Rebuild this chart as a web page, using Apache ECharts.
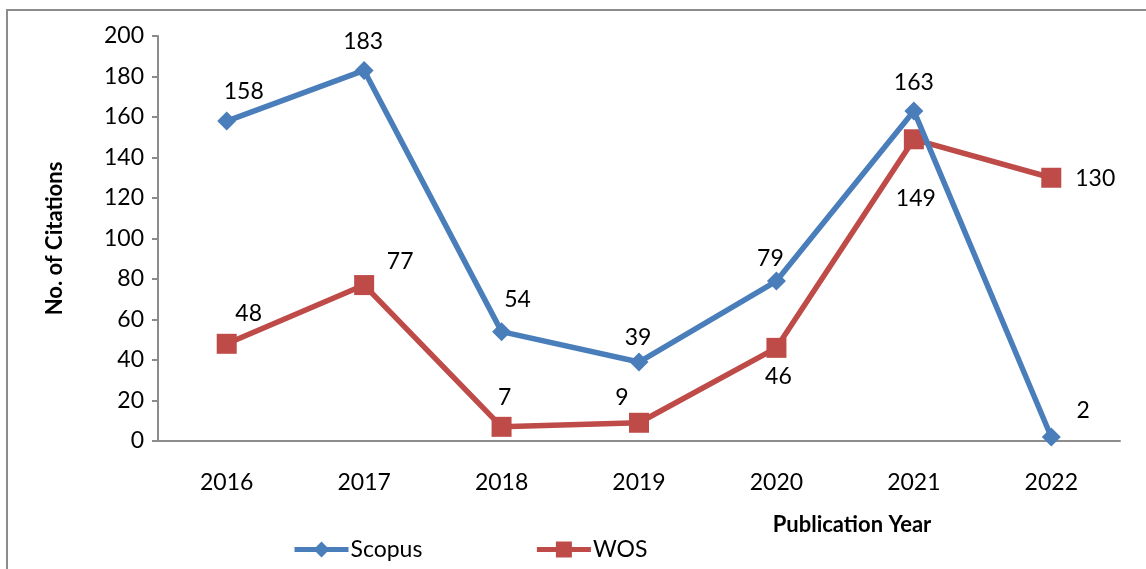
<!DOCTYPE html>
<html>
<head>
<meta charset="utf-8">
<script src="https://cdn.jsdelivr.net/npm/echarts@6/dist/echarts.min.js"></script>
<style>html,body{margin:0;padding:0;background:#fff}#c{width:1146px;height:569px}</style>
</head>
<body>
<div id="c"></div>
<script>
const categories = ['2016','2017','2018','2019','2020','2021','2022'];
const scopus = [158, 183, 54, 39, 79, 163, 2];
const wos = [48, 77, 7, 9, 46, 149, 130];
const yTicks = [0, 20, 40, 60, 80, 100, 120, 140, 160, 180, 200];
// label offsets (dx, dy) from each point, in px
const scopusLabelOffsets = [[17,-29],[-1,-29],[16,-32],[-1,-24],[-6,-22],[0,-28],[32,-26]];
const wosLabelOffsets = [[22,-30],[36,-23],[3,-29],[-17,-25],[2,29],[2,59],[44,1]];

const FONT = 'Lato';
const FS = 23;
const chart = echarts.init(document.getElementById('c'));
function withLabels(vals, offs) {
  return vals.map((v, i) => ({ value: v, label: { offset: offs[i] } }));
}
chart.setOption({
  animation: false,
  textStyle: { fontFamily: FONT },
  graphic: [{
    type: 'rect', shape: { x: 7, y: 10, width: 1150, height: 580 },
    style: { fill: 'none', stroke: '#8c8c8c', lineWidth: 2 }, silent: true
  }],
  grid: { left: 158, right: 26, top: 36, bottom: 128 },
  legend: {
    left: 287, top: 533, itemWidth: 54, itemHeight: 20, itemGap: 112,
    lineStyle: { width: 5 },
    textStyle: { fontFamily: FONT, fontSize: FS, color: '#000', padding: [0,0,0,-3] },
    data: ['Scopus', 'WOS']
  },
  xAxis: {
    type: 'category', data: categories, boundaryGap: true,
    name: 'Publication Year', nameLocation: 'end',
    nameGap: 0,
    nameTextStyle: { fontFamily: FONT, fontSize: 22, fontWeight: 'bold', color: '#000',
      align: 'center', verticalAlign: 'top', padding: [73, 536, 0, 0] },
    axisLine: { lineStyle: { color: '#8c8c8c', width: 2 } },
    axisTick: { show: false },
    axisLabel: { fontFamily: FONT, fontSize: FS, color: '#000', margin: 30 }
  },
  yAxis: {
    type: 'value', min: 0, max: 200, interval: 20,
    name: 'No. of Citations', nameLocation: 'middle', nameGap: 92,
    nameTextStyle: { fontFamily: FONT, fontSize: 22, fontWeight: 'bold', color: '#000' },
    axisLine: { show: true, lineStyle: { color: '#8c8c8c', width: 2 } },
    axisTick: { show: true, length: 6, lineStyle: { color: '#8c8c8c', width: 2 } },
    splitLine: { show: false },
    axisLabel: { fontFamily: FONT, fontSize: FS, color: '#000', margin: 14,
      formatter: v => yTicks.includes(v) ? String(v) : '' }
  },
  series: [
    {
      name: 'Scopus', type: 'line', data: withLabels(scopus, scopusLabelOffsets),
      symbol: 'diamond', symbolSize: 19,
      lineStyle: { color: '#4A7EBB', width: 5.5 },
      itemStyle: { color: '#4A7EBB' },
      label: { show: true, position: 'inside', fontFamily: FONT, fontSize: FS, color: '#000' },
      z: 3
    },
    {
      name: 'WOS', type: 'line', data: withLabels(wos, wosLabelOffsets),
      symbol: 'rect', symbolSize: 20,
      lineStyle: { color: '#BE4B48', width: 5.5 },
      itemStyle: { color: '#BE4B48' },
      label: { show: true, position: 'inside', fontFamily: FONT, fontSize: FS, color: '#000' },
      z: 2
    }
  ]
});
</script>
</body>
</html>
